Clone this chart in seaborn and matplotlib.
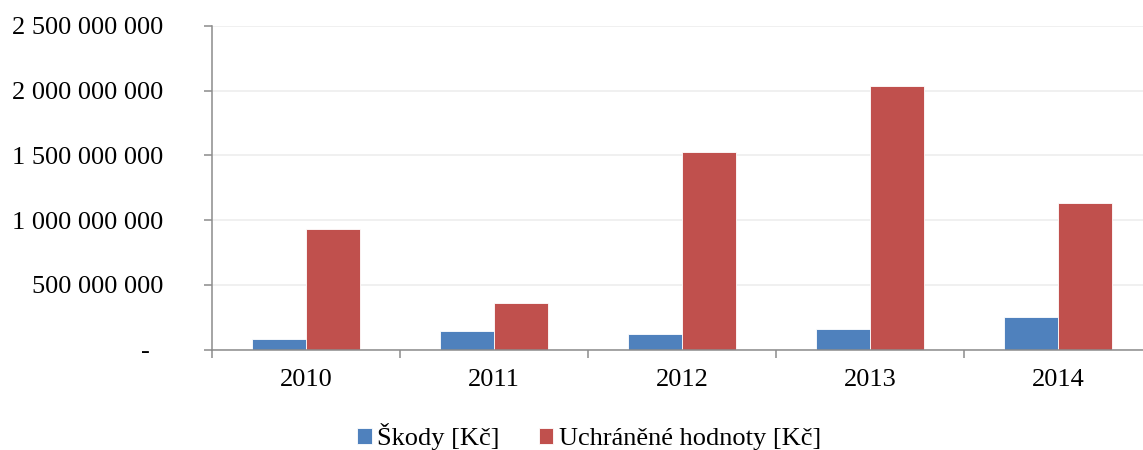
import matplotlib
matplotlib.use("Agg")
import matplotlib.pyplot as plt
import matplotlib.ticker as mticker
import seaborn as sns
import pandas as pd

years = ["2010", "2011", "2012", "2013", "2014"]
skody = [85e6, 140e6, 120e6, 160e6, 254e6]
uchranene = [935e6, 362e6, 1528e6, 2040e6, 1132e6]
series_names = ["Škody [Kč]", "Uchráněné hodnoty [Kč]"]
colors = ["#4F81BD", "#C0504D"]
yticks = [0, 500e6, 1000e6, 1500e6, 2000e6, 2500e6]

df = pd.DataFrame({
    "Rok": years * 2,
    "Hodnota": skody + uchranene,
    "Série": [series_names[0]] * len(years) + [series_names[1]] * len(years),
})

sns.set_theme(style="white")
plt.rcParams["font.family"] = ["Liberation Serif", "DejaVu Serif"]
plt.rcParams["text.color"] = "black"

fig = plt.figure(figsize=(11.43, 4.5), dpi=100)
ax = fig.add_axes([212 / 1143, (450 - 349.5) / 450, (1152 - 212) / 1143, (349.5 - 26) / 450])

sns.barplot(data=df, x="Rok", y="Hodnota", hue="Série", palette=colors,
            width=0.575, gap=0, ax=ax, edgecolor="white", linewidth=0.6,
            legend=True, saturation=1)

ax.set_xlim(-0.5, len(years) - 0.5)
ax.set_ylim(0, 2500e6)
ax.set_yticks(yticks)

def fmt(v, pos):
    if v == 0:
        return "-  "
    return f"{int(round(v)):,}".replace(",", " ")

ax.yaxis.set_major_formatter(mticker.FuncFormatter(fmt))
ax.set_xlabel("")
ax.set_ylabel("")

ax.grid(axis="y", color="#EDEDED", linewidth=1.2)
ax.set_axisbelow(True)

for s in ["top", "right"]:
    ax.spines[s].set_visible(False)
for s in ["left", "bottom"]:
    ax.spines[s].set_color("#8C8C8C")
    ax.spines[s].set_linewidth(1.1)

ax.tick_params(axis="y", which="major", length=6, width=1.1, color="#8C8C8C",
               direction="out", left=True, labelsize=19, pad=29, labelcolor="black")
ax.tick_params(axis="x", which="major", length=0, labelsize=19, pad=14, labelcolor="black")
ax.set_xticks([i - 0.5 for i in range(len(years) + 1)], minor=True)
ax.tick_params(axis="x", which="minor", length=6, width=1.1, color="#8C8C8C",
               direction="out", bottom=True)

handles, labels = ax.get_legend_handles_labels()
ax.get_legend().remove()
leg = fig.legend(handles, labels, loc="center left", bbox_to_anchor=(357 / 1143, 13 / 450),
                 ncol=2, frameon=False, fontsize=19, handlelength=0.55, handleheight=0.55,
                 handletextpad=0.2, columnspacing=1.5, borderaxespad=0, borderpad=0)
for t in leg.get_texts():
    t.set_color("black")

fig.savefig("out.png", dpi=100)
